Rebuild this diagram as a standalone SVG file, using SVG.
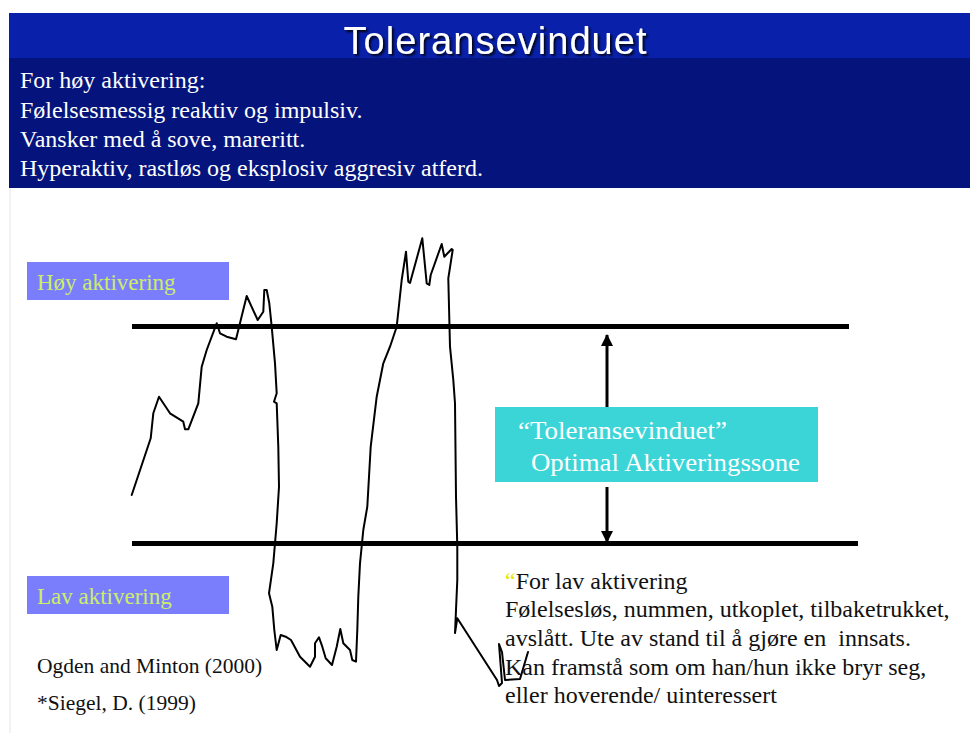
<svg xmlns="http://www.w3.org/2000/svg" width="970" height="733" viewBox="0 0 970 733">
<style>
.serif{font-family:"Liberation Serif","Times New Roman",serif;}
.hdr{fill:#ffffff;font-size:24px;}
.lvl{fill:#7b7efc;}
.lvltxt{fill:#ccef66;font-size:23px;}
.body{fill:#111111;font-size:24px;white-space:pre;}
.ref{fill:#111111;font-size:21.5px;}
.bar{stroke:#000000;stroke-width:5;}
.curve{fill:none;stroke:#000000;stroke-width:2;stroke-linejoin:round;stroke-linecap:round;}
.conn{stroke:#000000;stroke-width:3;fill:none;}
</style>
<defs>
<marker id="ah" viewBox="0 0 12 12" refX="11" refY="6" markerWidth="12" markerHeight="12" markerUnits="userSpaceOnUse" orient="auto">
<path d="M0,0 L12,6 L0,12 Z" fill="#000000"/>
</marker>
<filter id="sh" x="-10%" y="-20%" width="120%" height="150%">
<feDropShadow dx="2" dy="2" stdDeviation="1" flood-color="#000000" flood-opacity="0.85"/>
</filter>
</defs>
<rect x="0" y="0" width="970" height="733" fill="#ffffff"/>
<line x1="10" y1="188" x2="10" y2="733" stroke="#eeeeee" stroke-width="1.5"/>
<g id="header">
<rect x="9" y="13" width="961" height="45" fill="#0820aa"/>
<rect x="9" y="58" width="961" height="130" fill="#04147c"/>
<text x="495" y="54" text-anchor="middle" font-family="Liberation Sans, Arial, sans-serif" font-size="38" fill="#ffffff" textLength="303" filter="url(#sh)">Toleransevinduet</text>
<text class="serif hdr" x="20" y="88">For høy aktivering:</text>
<text class="serif hdr" x="20" y="118">Følelsesmessig reaktiv og impulsiv.</text>
<text class="serif hdr" x="20" y="147">Vansker med å sove, mareritt.</text>
<text class="serif hdr" x="20" y="176">Hyperaktiv, rastløs og eksplosiv aggresiv atferd.</text>
</g>
<g id="thresholds">
<line class="bar" x1="132" y1="326.5" x2="849" y2="326.5"/>
<line class="bar" x1="132" y1="543.5" x2="858" y2="543.5"/>
</g>
<g id="hoy-aktivering">
<rect class="lvl" x="27" y="262" width="202" height="38"/>
<text class="serif lvltxt" x="37" y="290">Høy aktivering</text>
</g>
<g id="lav-aktivering">
<rect class="lvl" x="27" y="576" width="202" height="38"/>
<text class="serif lvltxt" x="37" y="604">Lav aktivering</text>
</g>
<g id="activation-curve">
<polyline class="curve" points="131.7,495 150.7,438.3 153.3,413.3 159,396.7 170,413.3 183.3,421.7 185,429.3 188.3,429.3 198.3,403.3 201.7,366.7 206.7,350 216.7,323.3 220,333.3 226.7,336.7 236,339.3 246.7,296 257.7,320 263.3,311.7 264.3,290 266.7,290 269.3,303.3 271.7,326.7 275,363.3 276.7,393.3 274,401.7 276.7,403.3 278.3,446.7 279,486.7 276.7,523.3 273.3,563.3 269,593.3 272.3,606.7 274.3,630 276.7,650 280.7,635 285.7,636.7 291,640 300,656.7 310,666.7 315,656.7 315,643.3 319,637.3 322.3,646.7 325.7,658.3 332,665 336.7,646.7 340.3,629 343.3,643.3 350,650 352.3,660 356,661.7 357.3,630 358.3,596.7 360,563.3 363.3,530 367.3,506.7 370.7,446.7 376.7,396.7 383.3,363.3 390,346.7 396.7,326.7 401.7,280 406,251.7 408.3,281.7 410,283 422.3,238.3 426.7,283.3 429.3,285 430.7,275 441.7,244 444.3,256.7 451.7,249 452.7,250 448.3,278.3 450,346.7 453.3,380 455,403.3 456,496.7 457.3,546.7 457.3,580 456,610 455,633 457.3,618.3 497,680 499,686 502,683 499,644 502,652 505,680 520,679 528,652"/>
</g>
<g id="toleransevinduet-box">
<rect x="495" y="407" width="323" height="75" fill="#3bd5d8"/>
<text class="serif" x="518" y="439" font-size="26" fill="#ffffff" textLength="209" lengthAdjust="spacingAndGlyphs">“Toleransevinduet”</text>
<text class="serif" x="531" y="471" font-size="26" fill="#ffffff" textLength="269" lengthAdjust="spacingAndGlyphs">Optimal Aktiveringssone</text>
</g>
<g id="connectors">
<line class="conn" x1="607" y1="407" x2="607" y2="335" marker-end="url(#ah)"/>
<line class="conn" x1="607" y1="487" x2="607" y2="542" marker-end="url(#ah)"/>
</g>
<g id="lav-text">
<text class="serif body" x="505" y="589"><tspan fill="#e6e600">“</tspan>For lav aktivering</text>
<text class="serif body" x="505" y="617">Følelsesløs, nummen, utkoplet, tilbaketrukket,</text>
<text class="serif body" x="505" y="646">avslått. Ute av stand til å gjøre en  innsats.</text>
<text class="serif body" x="505" y="675">Kan framstå som om han/hun ikke bryr seg,</text>
<text class="serif body" x="505" y="703">eller hoverende/ uinteressert</text>
</g>
<g id="references">
<text class="serif ref" x="37" y="673">Ogden and Minton (2000)</text>
<text class="serif ref" x="37" y="710">*Siegel, D. (1999)</text>
</g>
</svg>
